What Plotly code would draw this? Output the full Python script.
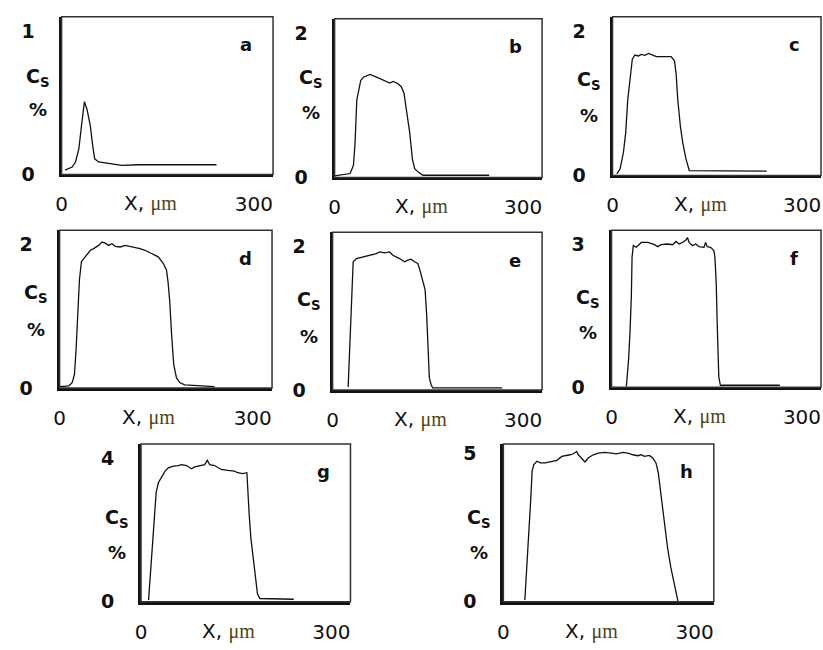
import plotly.graph_objects as go

# ---------------- data ----------------
panel_letters = ["a", "b", "c", "d", "e", "f", "g", "h"]
y_max_ticks = [1, 2, 2, 2, 2, 3, 4, 5]
x_tick_vals = [0, 300]
x_tick_text = ["0", "300"]

a_x = [5.2, 16.5, 21.7, 26.9, 31.0, 33.0, 35.6, 39.8, 44.9, 48.6, 51.6, 57.8, 78.5, 94.0, 119.8, 241.7]
a_y = [0.030, 0.052, 0.087, 0.178, 0.337, 0.428, 0.508, 0.451, 0.337, 0.200, 0.109, 0.087, 0.075, 0.064, 0.068, 0.068]

b_x = [0.0, 24.7, 30.0, 32.6, 35.3, 37.9, 41.6, 45.8, 56.3, 66.8, 77.4, 87.9, 93.2, 101.0, 106.3, 110.5,
       114.2, 119.5, 123.7, 127.4, 132.6, 140.5, 245.8]
b_y = [0.02, 0.054, 0.167, 0.484, 1.073, 1.209, 1.344, 1.389, 1.426, 1.389, 1.344, 1.308, 1.331, 1.299, 1.254, 1.163,
       0.937, 0.620, 0.258, 0.122, 0.077, 0.03, 0.03]

c_x = [6.8, 11.9, 17.2, 20.8, 24.0, 27.6, 31.3, 35.4, 40.7, 45.9, 51.1, 57.3, 61.5, 69.3, 92.8, 98.0, 100.7,
       103.3, 107.4, 111.1, 116.3, 121.5, 244.2]
c_y = [0.023, 0.091, 0.318, 0.590, 1.043, 1.360, 1.610, 1.669, 1.656, 1.678, 1.665, 1.692, 1.678, 1.646, 1.646,
       1.588, 1.406, 1.043, 0.680, 0.454, 0.227, 0.068, 0.059]

d_x = [0.0, 14.4, 19.5, 23.1, 25.7, 28.3, 30.8, 33.9, 40.1, 47.8, 52.9, 60.6, 65.8, 70.9, 76.1, 81.2, 86.4, 94.1,
       101.8, 109.5, 117.2, 124.9, 132.6, 142.9, 153.2, 160.9, 166.0, 168.6, 171.2, 173.7, 177.3, 181.5, 186.6,
       194.3, 240.6]
d_y = [0.02, 0.032, 0.077, 0.191, 0.555, 1.011, 1.512, 1.763, 1.831, 1.922, 1.945, 1.990, 2.036, 2.022, 1.990,
       2.013, 1.977, 1.968, 1.990, 1.977, 1.968, 1.945, 1.922, 1.877, 1.831, 1.740, 1.649, 1.467, 1.194, 0.783,
       0.328, 0.146, 0.077, 0.046, 0.02]

e_x = [24.5, 28.2, 30.8, 32.4, 37.6, 48.0, 58.5, 68.9, 74.1, 82.0, 89.8, 95.0, 105.5, 113.3, 118.5, 123.7, 128.9,
       134.2, 136.8, 142.0, 145.7, 148.3, 150.9, 152.4, 155.1, 157.7, 267.3]
e_y = [0.041, 0.808, 1.447, 1.789, 1.834, 1.857, 1.880, 1.903, 1.926, 1.912, 1.926, 1.880, 1.834, 1.789, 1.812,
       1.825, 1.789, 1.766, 1.697, 1.538, 1.401, 1.036, 0.488, 0.169, 0.078, 0.03, 0.03]

f_x = [23.4, 25.0, 27.0, 29.1, 31.2, 32.3, 34.3, 39.0, 46.8, 57.2, 67.6, 72.8, 78.0, 88.4, 96.2, 101.4, 106.6,
       111.8, 117.0, 119.6, 122.2, 127.4, 132.6, 137.8, 145.6, 148.2, 150.8, 156.0, 161.2, 162.8, 164.9, 166.4,
       168.0, 169.0, 171.6, 174.2, 265.2]
f_y = [0.014, 0.273, 0.616, 1.164, 1.916, 2.737, 2.978, 2.943, 3.045, 3.045, 2.998, 2.957, 2.998, 3.012, 2.998,
       3.066, 3.012, 3.045, 3.094, 3.148, 3.045, 2.978, 3.012, 2.957, 2.943, 3.045, 2.957, 2.943, 2.875, 2.737,
       2.190, 1.369, 0.411, 0.205, 0.034, 0.04, 0.04]

g_x = [11.9, 14.6, 18.2, 21.3, 23.9, 27.5, 32.7, 37.9, 43.1, 50.9, 58.7, 63.9, 71.7, 79.5, 84.7, 92.5, 100.3,
       104.5, 108.1, 115.9, 126.3, 136.7, 147.1, 152.3, 160.1, 166.8, 167.9, 170.5, 173.1, 177.2, 180.9, 183.4,
       187.1, 240.6]
g_y = [0.046, 0.683, 1.503, 2.414, 3.052, 3.325, 3.507, 3.644, 3.735, 3.780, 3.799, 3.826, 3.799, 3.708, 3.762,
       3.799, 3.826, 3.945, 3.826, 3.799, 3.689, 3.662, 3.644, 3.598, 3.571, 3.598, 3.143, 2.414, 1.776, 1.139,
       0.592, 0.228, 0.091, 0.07]

h_x = [33.7, 35.7, 38.3, 40.9, 43.0, 45.1, 47.7, 52.8, 58.0, 65.8, 76.2, 83.9, 91.7, 99.5, 104.6, 109.8, 115.0,
       117.6, 122.8, 128.0, 133.1, 140.9, 148.7, 159.0, 169.4, 177.2, 187.5, 195.3, 203.1, 210.9, 216.0, 221.2,
       229.0, 234.2, 239.3, 243.0, 246.1, 249.7, 253.3, 257.5, 262.6, 267.8, 272.0, 274.0]
h_y = [0.055, 0.713, 1.591, 2.688, 3.457, 4.389, 4.609, 4.719, 4.664, 4.664, 4.719, 4.751, 4.883, 4.905, 4.938,
       4.971, 5.048, 4.938, 4.828, 4.697, 4.828, 4.938, 4.993, 5.015, 4.993, 4.971, 5.015, 4.993, 4.938, 4.905,
       4.938, 4.883, 4.916, 4.828, 4.664, 4.334, 3.786, 3.127, 2.469, 1.811, 1.152, 0.604, 0.165, 0.0]

series_x = [a_x, b_x, c_x, d_x, e_x, f_x, g_x, h_x]
series_y = [a_y, b_y, c_y, d_y, e_y, f_y, g_y, h_y]

# ---------------- layout (pixel frames) ----------------
W, H = 823, 650
frames = [  # left, right, top, bottom in pixels
    (56, 269, 15, 176),
    (331, 540, 17, 179),
    (611, 821, 15, 177),
    (54, 268, 233, 394),
    (329, 540, 235, 396),
    (610, 821, 233, 393),
    (136, 347, 451, 612),
    (501, 713, 451, 612),
]
y_range_factor = [1.1, 1.1, 1.1, 1.1, 1.1, 1.1, 1.1, 1.06]
cs_pos = [0.615, 0.62, 0.60, 0.60, 0.565, 0.568, 0.53, 0.525]
pct_pos = [0.41, 0.41, 0.375, 0.37, 0.337, 0.347, 0.31, 0.31]

FONT = "DejaVu Sans"
fig = go.Figure()
layout = dict(width=W, height=H, margin=dict(l=0, r=0, t=0, b=0),
              paper_bgcolor="white", plot_bgcolor="white", showlegend=False)
annotations = []
shapes = []

for i in range(8):
    n = i + 1
    sfx = "" if n == 1 else str(n)
    L, R, T, B = frames[i]
    fig.add_trace(go.Scatter(x=series_x[i], y=series_y[i], mode="lines",
                             line=dict(color="#111", width=1.3),
                             xaxis="x" + sfx, yaxis="y" + sfx, hoverinfo="skip"))
    layout["xaxis" + sfx] = dict(
        domain=[L / W, R / W], range=[0, 330], anchor="y" + sfx,
        tickvals=x_tick_vals, ticktext=x_tick_text, ticks="outside", ticklen=0,
        tickfont=dict(family=FONT, size=20, color="#111"), ticklabelstandoff=10,
        showgrid=False, zeroline=False, showline=True, linecolor="#111", linewidth=3,
        fixedrange=True)
    ym = y_max_ticks[i]
    layout["yaxis" + sfx] = dict(
        domain=[1 - B / H, 1 - T / H], range=[0, ym * y_range_factor[i]], anchor="x" + sfx,
        tickvals=[0, ym], ticktext=["0", str(ym)], ticks="outside", ticklen=0,
        tickfont=dict(family=FONT, size=19, color="#111", weight="bold"), ticklabelstandoff=20,
        showgrid=False, zeroline=False, showline=True, linecolor="#111", linewidth=3,
        fixedrange=True)
    xd = "x" + sfx + " domain"
    yd = "y" + sfx + " domain"
    shapes.append(dict(type="rect", xref=xd, yref=yd, x0=0, x1=1, y0=0, y1=1,
                       line=dict(color="#333", width=1.5), fillcolor="rgba(0,0,0,0)"))
    annotations.append(dict(text=panel_letters[i], xref=xd, yref=yd, x=1, y=1,
                            xanchor="center", yanchor="middle", xshift=-27, yshift=-28,
                            showarrow=False, font=dict(family=FONT, size=18, color="#111", weight="bold")))
    annotations.append(dict(text="C<sub>S</sub>", xref=xd, yref=yd, x=0, y=cs_pos[i],
                            xanchor="right", yanchor="middle", xshift=-10,
                            showarrow=False, font=dict(family=FONT, size=19, color="#111", weight="bold")))
    annotations.append(dict(text="%", xref=xd, yref=yd, x=0, y=pct_pos[i],
                            xanchor="right", yanchor="middle", xshift=-13,
                            showarrow=False, font=dict(family=FONT, size=18, color="#111", weight="bold")))
    annotations.append(dict(text="X, <span style='font-family:Liberation Serif;color:#4d4419'>μm</span>",
                            xref=xd, yref=yd, x=0.42, y=0, xanchor="center", yanchor="top", yshift=-15,
                            showarrow=False, font=dict(family=FONT, size=20, color="#111")))

layout["annotations"] = annotations
layout["shapes"] = shapes
fig.update_layout(**layout)
fig.write_html("out.html", config={"displayModeBar": False},
               post_script="document.body.style.margin='0';document.body.style.overflow='hidden';")
